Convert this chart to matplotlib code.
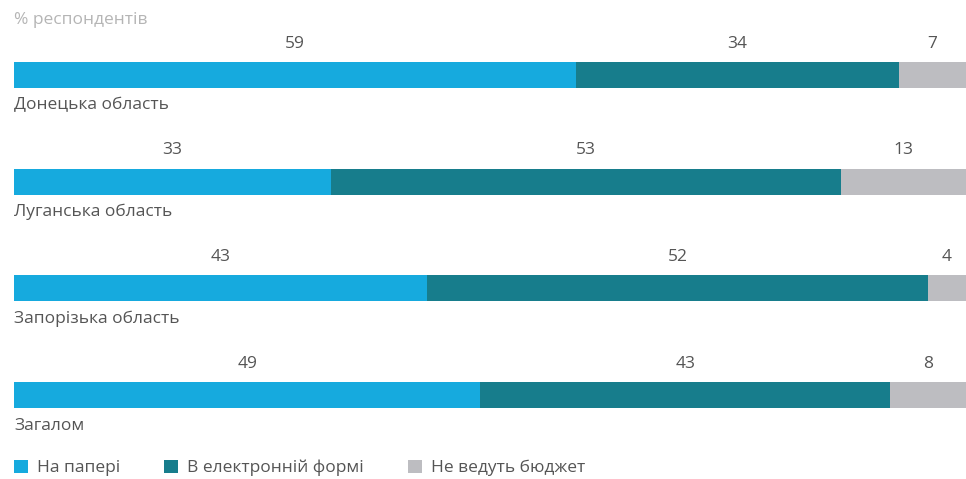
import numpy as np
import matplotlib
matplotlib.use('Agg')
import matplotlib.pyplot as plt
from matplotlib.patches import Patch

plt.rcParams['font.family'] = ['Open Sans', 'DejaVu Sans']

# data
regions = ['Донецька область', 'Луганська область', 'Запорізька область', 'Загалом']
paper = [59, 33, 43, 49]
electronic = [34, 53, 52, 43]
no_budget = [7, 13, 4, 8]
series_names = ['На папері', 'В електронній формі', 'Не ведуть бюджет']
colors = ['#16aade', '#177d8c', '#bdbdc1']
unit_label = '% респондентів'

text_color = '#555555'
fs = 12.5

fig = plt.figure(figsize=(9.66, 4.79), dpi=100)
ax = fig.add_axes([14 / 966, 0, 952 / 966, 1])
ax.set_xlim(0, 100)
ax.set_ylim(3.786, -0.703)
ax.axis('off')

values = np.array([paper, electronic, no_budget], dtype=float)
totals = values.sum(axis=0)
shares = values / totals * 100
ypos = np.arange(len(regions))

left = np.zeros(len(regions))
for k in range(3):
    ax.barh(ypos, shares[k], left=left, height=0.245, color=colors[k], linewidth=0)
    for i in range(len(regions)):
        ax.text(left[i] + shares[k][i] / 2, ypos[i] - 0.295, '%d' % values[k][i],
                ha='center', va='center', fontsize=fs, color=text_color)
    left += shares[k]

for i, name in enumerate(regions):
    ax.text(0, ypos[i] + 0.285, name, ha='left', va='center', fontsize=fs, color=text_color)

fig.text(14 / 966, 1 - 20 / 479, unit_label, ha='left', va='center', fontsize=fs, color='#b5b5b5')

handles = [Patch(facecolor=c, edgecolor='none') for c in colors]
leg = fig.legend(handles, series_names, loc='center left', bbox_to_anchor=(7 / 966, 1 - 468 / 479),
                 ncol=3, frameon=False, fontsize=fs, handlelength=0.8, handleheight=0.8,
                 handletextpad=0.55, columnspacing=2.5, borderaxespad=0)
for t in leg.get_texts():
    t.set_color(text_color)

fig.savefig('out.png', dpi=100)
